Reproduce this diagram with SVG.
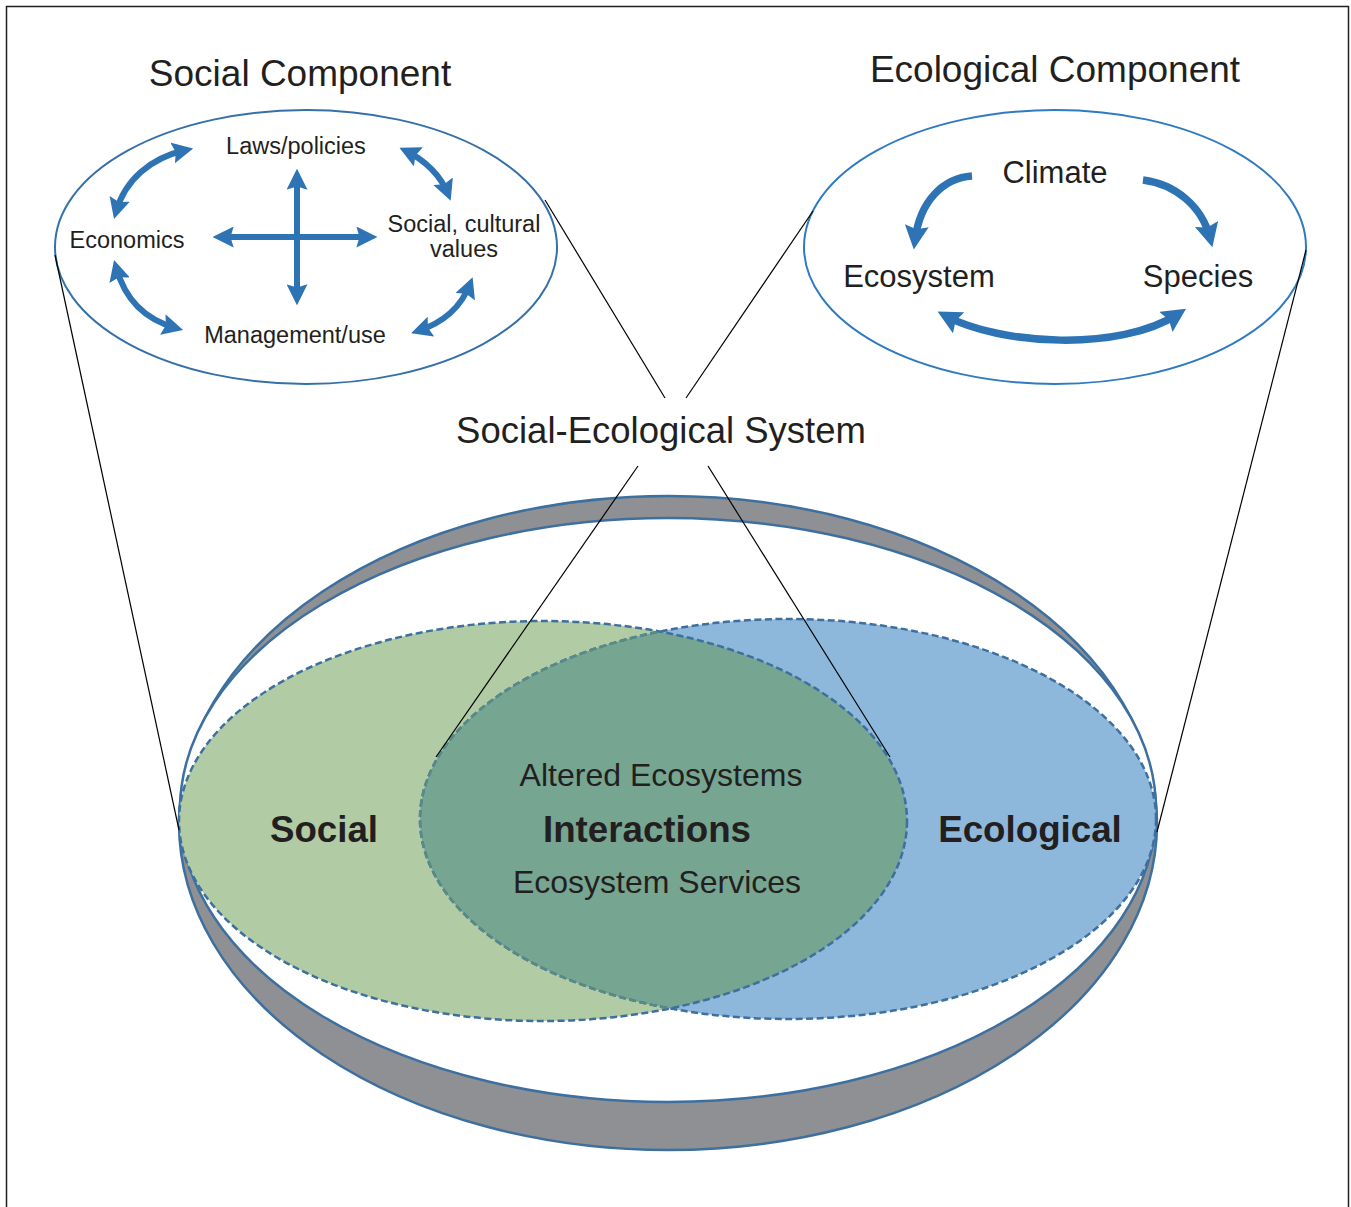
<svg xmlns="http://www.w3.org/2000/svg" width="1351" height="1207" viewBox="0 0 1351 1207">
<defs>
<style>
text { font-family: "Liberation Sans", Arial, Helvetica, sans-serif; fill: #231f20; }
.lead { fill: none; stroke: #000; stroke-width: 1.2; }
.arr { fill: none; stroke: #2e74b5; }
.dash { fill: none; stroke: #3d6f9f; stroke-width: 2.5; stroke-dasharray: 7 3.5; }
.ring { stroke: #3d6f9f; stroke-width: 2.5; }
.lbl { font-size: 23.5px; }
</style>
<marker id="ah" viewBox="0 0 20 20" refX="13" refY="10" markerWidth="21" markerHeight="21" markerUnits="userSpaceOnUse" orient="auto-start-reverse">
<path d="M0,0 L20,10 L0,20 L3,10 z" fill="#2e74b5"/>
</marker>
<marker id="ah2" viewBox="0 0 20 20" refX="12" refY="10" markerWidth="24" markerHeight="24" markerUnits="userSpaceOnUse" orient="auto-start-reverse">
<path d="M0,0 L20,10 L0,20 L3,10 z" fill="#2e74b5"/>
</marker>
<clipPath id="clipG"><ellipse cx="543" cy="821" rx="364" ry="200"/></clipPath>
</defs>

<path d="M6.5,1207 V6.5 H1348.5 V1207" fill="none" stroke="#231f20" stroke-width="1.5"/>

<g id="ses-dish">
<ellipse class="ring" cx="668" cy="823" rx="489" ry="327" fill="#8e9094"/>
<ellipse class="ring" cx="668" cy="810" rx="488" ry="292" fill="#ffffff"/>
</g>

<g id="venn-social">
<ellipse cx="543" cy="821" rx="364" ry="200" fill="#b1cba4"/>
</g>
<g id="venn-ecological">
<ellipse cx="788" cy="819" rx="368" ry="200" fill="#8db8dc"/>
</g>
<g id="venn-interactions">
<ellipse cx="788" cy="819" rx="368" ry="200" fill="#76a692" clip-path="url(#clipG)"/>
<ellipse class="dash" cx="543" cy="821" rx="364" ry="200"/>
<ellipse class="dash" cx="788" cy="819" rx="368" ry="200"/>
<ellipse class="dash" cx="788" cy="819" rx="368" ry="200" style="stroke:#5a8a84" clip-path="url(#clipG)"/>
</g>

<g id="social-component">
<text x="300" y="86" font-size="37" text-anchor="middle">Social Component</text>
<ellipse cx="306" cy="247" rx="251" ry="137" fill="#fff" stroke="#3570a8" stroke-width="2"/>
<text class="lbl" x="296" y="154" text-anchor="middle">Laws/policies</text>
<text class="lbl" x="127" y="248" text-anchor="middle">Economics</text>
<text class="lbl" x="464" y="232" text-anchor="middle">Social, cultural</text>
<text class="lbl" x="464" y="257" text-anchor="middle">values</text>
<text class="lbl" x="295" y="343" text-anchor="middle">Management/use</text>
<g class="arr" stroke-width="6">
<path d="M116,212 C125,180 150,158 186,150" marker-start="url(#ah)" marker-end="url(#ah)"/>
<path d="M406,151 C425,160 441,176 448,194" marker-start="url(#ah)" marker-end="url(#ah)"/>
<path d="M116,267 C125,300 146,320 176,328" marker-start="url(#ah)" marker-end="url(#ah)"/>
<path d="M418,331 C445,322 462,305 470,284" marker-start="url(#ah)" marker-end="url(#ah)"/>
<path d="M297,176 V298" marker-start="url(#ah)" marker-end="url(#ah)"/>
<path d="M220,237 H370" marker-start="url(#ah)" marker-end="url(#ah)"/>
</g>
</g>

<g id="ecological-component">
<text x="1055" y="82" font-size="37" text-anchor="middle">Ecological Component</text>
<ellipse cx="1055" cy="247" rx="251" ry="137" fill="#fff" stroke="#2f7bc2" stroke-width="2"/>
<text x="1055" y="183" font-size="31" text-anchor="middle">Climate</text>
<text x="919" y="287" font-size="31" text-anchor="middle">Ecosystem</text>
<text x="1198" y="287" font-size="31" text-anchor="middle">Species</text>
<g class="arr" stroke-width="7.5">
<path d="M972,176 C944,178 920,200 915,240" marker-end="url(#ah2)"/>
<path d="M1143,180 C1175,184 1202,206 1210,238" marker-end="url(#ah2)"/>
<path d="M946,316 C1000,345 1120,352 1178,314" marker-start="url(#ah2)" marker-end="url(#ah2)"/>
</g>
</g>

<g id="ses-label">
<text x="661" y="443" font-size="36.5" text-anchor="middle">Social-Ecological System</text>
</g>

<g id="venn-labels">
<text x="324" y="842" font-size="36.7" font-weight="bold" text-anchor="middle">Social</text>
<text x="647" y="842" font-size="36.7" font-weight="bold" text-anchor="middle">Interactions</text>
<text x="1030" y="842" font-size="36.7" font-weight="bold" text-anchor="middle">Ecological</text>
<text x="661" y="786" font-size="32" text-anchor="middle">Altered Ecosystems</text>
<text x="657" y="893" font-size="32" text-anchor="middle">Ecosystem Services</text>
</g>

<g id="connectors">
<line class="lead" x1="55" y1="255" x2="179" y2="830"/>
<line class="lead" x1="545" y1="200" x2="665" y2="398"/>
<line class="lead" x1="813" y1="211" x2="686" y2="398"/>
<line class="lead" x1="1306" y1="250" x2="1157" y2="832"/>
<line class="lead" x1="638" y1="466" x2="436" y2="757"/>
<line class="lead" x1="708" y1="466" x2="890" y2="757"/>
</g>
</svg>
